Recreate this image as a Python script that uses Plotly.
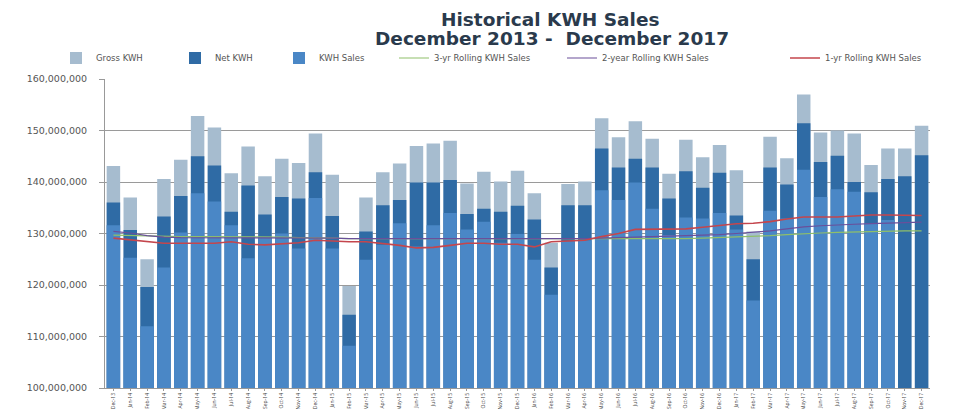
import plotly.graph_objects as go

months = ["Dec-13", "Jan-14", "Feb-14", "Mar-14", "Apr-14", "May-14", "Jun-14", "Jul-14", "Aug-14",
          "Sep-14", "Oct-14", "Nov-14", "Dec-14", "Jan-15", "Feb-15", "Mar-15", "Apr-15", "May-15",
          "Jun-15", "Jul-15", "Aug-15", "Sep-15", "Oct-15", "Nov-15", "Dec-15", "Jan-16", "Feb-16",
          "Mar-16", "Apr-16", "May-16", "Jun-16", "Jul-16", "Aug-16", "Sep-16", "Oct-16", "Nov-16",
          "Dec-16", "Jan-17", "Feb-17", "Mar-17", "Apr-17", "May-17", "Jun-17", "Jul-17", "Aug-17",
          "Sep-17", "Oct-17", "Nov-17", "Dec-17"]

# values in millions of KWH
gross_kwh = [143.1, 137.0, 125.0, 140.6, 144.3, 152.8, 150.6, 141.7, 146.9, 141.1, 144.5, 143.7, 149.4,
             141.4, 119.8, 137.0, 141.9, 143.6, 147.0, 147.5, 148.0, 139.7, 142.0, 140.1, 142.2, 137.8,
             128.2, 139.6, 140.1, 152.4, 148.7, 151.8, 148.4, 141.6, 148.2, 144.8, 147.2, 142.3, 130.4,
             148.8, 144.6, 157.0, 149.6, 150.0, 149.4, 143.3, 146.5, 146.5, 150.9]
net_kwh = [136.0, 130.7, 119.6, 133.3, 137.3, 145.0, 143.2, 134.2, 139.3, 133.7, 137.1, 136.8, 141.9,
           133.4, 114.2, 130.4, 135.5, 136.5, 139.9, 139.9, 140.4, 133.8, 134.8, 134.2, 135.4, 132.7,
           123.4, 135.5, 135.5, 146.5, 142.8, 144.5, 142.8, 136.8, 142.1, 138.9, 141.8, 133.5, 125.0,
           142.8, 139.5, 151.4, 143.9, 145.1, 140.0, 138.0, 140.6, 141.1, 145.2]
kwh_sales = [131.6, 125.3, 112.0, 123.4, 130.2, 137.8, 136.2, 131.6, 125.2, 129.2, 130.0, 127.1, 136.9,
             127.1, 108.2, 124.9, 127.8, 132.0, 127.5, 131.6, 134.0, 130.8, 132.3, 128.2, 129.9, 124.9,
             118.1, 128.5, 128.7, 138.4, 136.5, 139.9, 134.8, 129.7, 133.1, 132.9, 134.0, 130.8, 117.0,
             134.4, 132.9, 142.4, 137.1, 138.6, 138.1, 132.0, 132.6, None, None]
rolling_3yr = [129.7, 129.6, 129.5, 129.4, 129.4, 129.4, 129.4, 129.3, 129.3, 129.3, 129.3, 129.2, 129.2,
               129.1, 129.0, 129.0, 129.0, 129.0, 129.0, 129.0, 129.0, 129.0, 129.0, 129.0, 129.0, 129.0,
               128.9, 128.9, 128.9, 128.9, 128.9, 128.9, 128.9, 128.9, 129.0, 129.1, 129.2, 129.3, 129.4,
               129.6, 129.8, 130.0, 130.1, 130.2, 130.3, 130.4, 130.4, 130.5, 130.5]
rolling_2yr = [130.4, 130.1, 129.6, 129.3, 129.2, 129.2, 129.2, 129.2, 129.1, 129.1, 129.1, 129.1, 129.1,
               129.1, 129.0, 129.0, 129.0, 128.9, 128.9, 128.9, 128.9, 128.9, 128.9, 128.9, 128.9, 128.9,
               128.9, 129.0, 129.0, 129.1, 129.2, 129.3, 129.4, 129.4, 129.5, 129.6, 129.8, 130.0, 130.2,
               130.5, 130.9, 131.3, 131.5, 131.7, 131.8, 131.9, 132.0, 132.1, 132.2]
rolling_1yr = [129.1, 128.8, 128.4, 128.1, 128.1, 128.1, 128.1, 128.4, 127.9, 127.8, 128.0, 128.2, 128.7,
               128.5, 128.4, 128.4, 128.1, 127.7, 127.2, 127.3, 127.7, 128.1, 128.1, 127.9, 127.9, 127.4,
               128.4, 128.6, 128.7, 129.4, 130.0, 130.8, 130.8, 130.8, 130.9, 131.2, 131.5, 131.9, 132.0,
               132.3, 132.8, 133.2, 133.2, 133.2, 133.4, 133.6, 133.6, 133.6, 133.5]

y_ticks = [100, 110, 120, 130, 140, 150, 160]


def scale(vals):
    return [None if v is None else v * 1e6 for v in vals]


fig = go.Figure()
fig.add_trace(go.Bar(x=months, y=scale(gross_kwh), name="Gross KWH", marker_color="#a6bccf",
                     marker_line_width=0, legend="legend"))
fig.add_trace(go.Bar(x=months, y=scale(net_kwh), name="Net KWH", marker_color="#2f6ba5",
                     marker_line_width=0, legend="legend2"))
fig.add_trace(go.Bar(x=months, y=scale(kwh_sales), name="KWH Sales", marker_color="#4a87c6",
                     marker_line_width=0, legend="legend3"))
fig.add_trace(go.Scatter(x=months, y=scale(rolling_3yr), name="3-yr Rolling KWH Sales", mode="lines",
                         line=dict(color="#8fbf6a", width=1.2), legend="legend4"))
fig.add_trace(go.Scatter(x=months, y=scale(rolling_2yr), name="2-year Rolling KWH Sales", mode="lines",
                         line=dict(color="#6a4f9a", width=1.2), legend="legend5"))
fig.add_trace(go.Scatter(x=months, y=scale(rolling_1yr), name="1-yr Rolling KWH Sales", mode="lines",
                         line=dict(color="#c4464d", width=1.6), legend="legend6"))

L, R, T, B = 105, 39, 79, 21
W, H = 969, 409
pw = W - L - R
ph = H - T - B
leg_font = dict(family="DejaVu Sans, sans-serif", size=8.5, color="#555555")
legend_text_px = [97, 216, 320, 435, 603, 826]
legends = {}
for i, px in enumerate(legend_text_px):
    key = "legend" if i == 0 else f"legend{i + 1}"
    legends[key] = dict(x=(px - 41 - L) / pw, xanchor="left", y=1.0 + (T - 58) / ph, yanchor="middle",
                        orientation="h", font=leg_font, bgcolor="rgba(0,0,0,0)",
                        itemwidth=30, tracegroupgap=0)

title_font = dict(family="DejaVu Sans, sans-serif", size=18.5, color="#2a3a4c")
fig.update_layout(
    width=W, height=H,
    margin=dict(l=L, r=R, t=T, b=B, autoexpand=False),
    paper_bgcolor="white", plot_bgcolor="white",
    barmode="overlay", bargap=0.2,
    showlegend=True,
    annotations=[
        dict(text="<b>Historical KWH Sales</b>", xref="paper", yref="paper",
             x=(550 - L) / pw, y=1.0 + (T - 20) / ph, xanchor="center", yanchor="middle",
             showarrow=False, font=title_font),
        dict(text="<b>December 2013 -  December 2017</b>", xref="paper", yref="paper",
             x=(552 - L) / pw, y=1.0 + (T - 39) / ph, xanchor="center", yanchor="middle",
             showarrow=False, font=title_font),
    ],
    **legends,
)
fig.update_xaxes(type="category", tickangle=-90, tickfont=dict(size=5, color="#444444"),
                 showline=True, linecolor="#999999", linewidth=1, ticks="outside", ticklen=2,
                 tickcolor="#999999", showgrid=False)
fig.update_yaxes(range=[100e6, 160e6], tickvals=[v * 1e6 for v in y_ticks], tickformat=",d",
                 tickfont=dict(family="DejaVu Sans, sans-serif", size=9.5, color="#555555"),
                 showgrid=True, gridcolor="#9a9a9a", gridwidth=1, showline=True, linecolor="#999999",
                 linewidth=1, ticks="outside", ticklen=5, tickcolor="#999999", zeroline=False,
                 ticklabelstandoff=10)

fig.write_html("out.html", config={"displayModeBar": False},
               post_script="document.body.style.margin='0px';document.body.style.overflow='hidden';")
